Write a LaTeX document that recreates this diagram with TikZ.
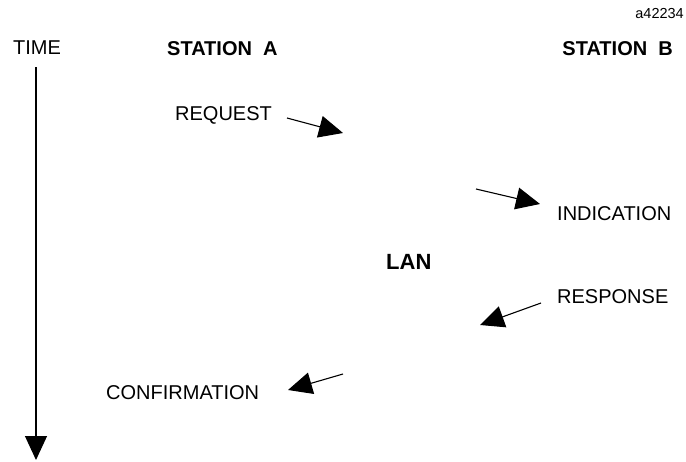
\documentclass[tikz,border=0pt]{standalone}
\usepackage{fontspec}
\setmainfont{Liberation Sans}
\usetikzlibrary{arrows.meta}
\tikzset{primitive/.style={inner sep=0pt,anchor=base west,
                           font=\fontsize{20}{24}\selectfont}}
\tikzset{station/.style={primitive,font=\fontsize{20}{24}\selectfont\bfseries}}
\tikzset{message/.style={line width=1.1pt,
                         -{Triangle[length=24pt,width=22pt]}}}
\begin{document}
\begin{tikzpicture}[x=1pt,y=-1pt]
    \useasboundingbox (0,0) rectangle (686,461);
    % Figure tag
    \node[primitive,anchor=base east,font=\fontsize{14.5}{17}\selectfont] (tag) at (684,18) {a42234};
    % Column headings
    \node[primitive] (time) at (13,54) {TIME};
    \node[station] (sta) at (167,55) {STATION\ \ A};
    \node[station,anchor=base east] (stb) at (673,55) {STATION\ \ B};
    % Draw time axis
    \coordinate (t0) at (36,67);
    \coordinate (t1) at (36,460);
    \draw[message] (t0) -- (t1);
    % Draw service primitives
    \foreach \p/\x/\y [count=\pi] in {REQUEST/175/120,INDICATION/557/220,
                                      RESPONSE/557/303,CONFIRMATION/106/399}{%
          \node[primitive] (p\pi) at (\x,\y) {\p};
        }
    \node[station,font=\fontsize{22}{26}\selectfont\bfseries] (lan) at (386,269) {LAN};
    % Draw arrows between the stations
    \foreach \a/\b/\c/\d [count=\mi] in {287/118/343/133,476/189/540/204,
                                         541/303/480/325,343/374/288/390}{%
          \coordinate (m\mi s) at (\a,\b);
          \coordinate (m\mi e) at (\c,\d);
          \draw[message] (m\mi s) -- (m\mi e);
        }
\end{tikzpicture}
\end{document}
